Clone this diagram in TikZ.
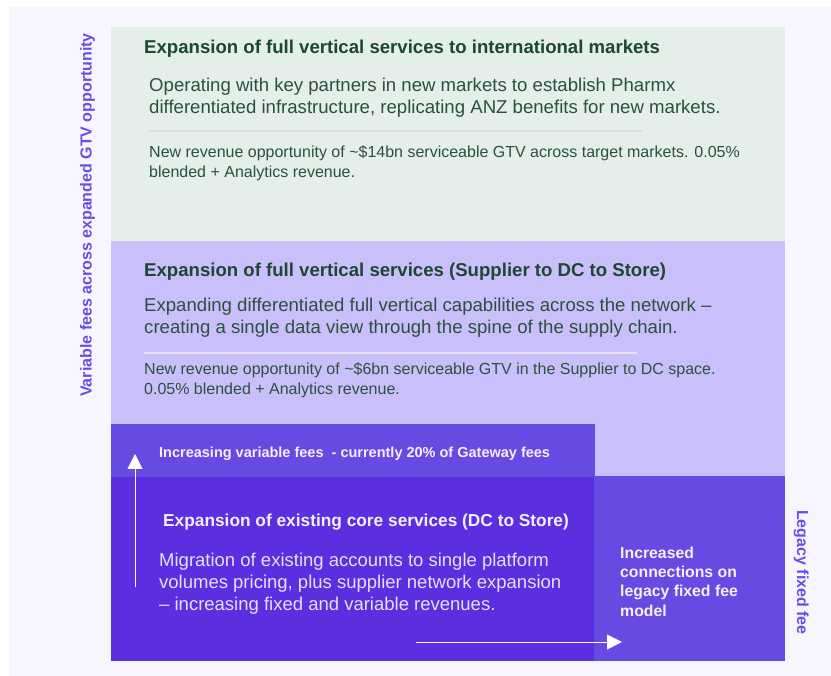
\documentclass[tikz,border=0pt]{standalone}
\usepackage{fontspec}
\setmainfont{Liberation Sans}
\usetikzlibrary{arrows.meta}
\definecolor{pagebg}{HTML}{F7F6FE}
\definecolor{panelgreen}{HTML}{E4EFEA}
\definecolor{panellilac}{HTML}{C9C0FB}
\definecolor{panelviolet}{HTML}{664AE2}
\definecolor{paneldeep}{HTML}{5B2EE0}
\definecolor{headgreen}{HTML}{1B4733}
\definecolor{bodygreen}{HTML}{2B5040}
\definecolor{rulegrey}{HTML}{DCDCE8}
\definecolor{rulelilac}{HTML}{E6E2F6}
\definecolor{sidepurple}{HTML}{6A4DE8}
\definecolor{palewhite}{HTML}{F2F0FF}
\definecolor{palelilac}{HTML}{E6E0FF}
\tikzstyle{heading}=[anchor=base west, inner sep=0pt, font=\bfseries\fontsize{18.6}{22}\selectfont, text=headgreen]
\tikzstyle{bodytext}=[anchor=base west, inner sep=0pt, align=left, font=\fontsize{18.6}{22}\selectfont, text=bodygreen]
\tikzstyle{smalltext}=[bodytext, font=\fontsize{16}{19.5}\selectfont]
\tikzstyle{bandtext}=[anchor=base west, inner sep=0pt, font=\bfseries\fontsize{14.5}{18}\selectfont, text=palewhite]
\tikzstyle{coreheading}=[heading, font=\bfseries\fontsize{17.3}{21}\selectfont, text=palewhite]
\tikzstyle{corebody}=[bodytext, font=\fontsize{18.5}{22}\selectfont, text=palelilac]
\tikzstyle{legacytext}=[bandtext, align=left, font=\bfseries\fontsize{15.8}{19.3}\selectfont]
\tikzstyle{sidelabel}=[anchor=base west, inner sep=0pt, font=\bfseries\fontsize{16}{19}\selectfont, text=sidepurple]
\tikzstyle{growth}=[white, line width=1pt, -{Triangle[width=15pt,length=15pt]}]

\begin{document}
\begin{tikzpicture}[x=1pt,y=-1pt]
    \useasboundingbox (0,0) rectangle (831,676);
    \fill [pagebg] (9,7) rectangle (831,676);
    \fill [panelgreen] (111,27) rectangle (785,241);
    \fill [panellilac] (111,241) rectangle (785,477);
    \fill [panelviolet] (111,424) rectangle (595,477);
    \fill [panelviolet] (594,476) rectangle (785,661);
    \fill [paneldeep] (111,477) rectangle (594,661);
    \draw [rulegrey, line width=1.3pt] (149,131) -- (642,131);
    \draw [rulelilac, line width=1.8pt] (144,353) -- (637,353);
    \node [heading] (intl) at (144,54) {Expansion of full vertical services to international markets};
    \node [bodytext] (intldesc) at (149,114) {Operating with key partners in new markets to establish Pharmx\\differentiated infrastructure, replicating ANZ benefits for new markets.};
    \node [smalltext] (intlgtv) at (149,177.5) {New revenue opportunity of \textasciitilde\$14bn serviceable GTV across target markets. 0.05\%\\blended + Analytics revenue.};
    \node [heading] (supply) at (144,277) {Expansion of full vertical services (Supplier to DC to Store)};
    \node [bodytext] (supplydesc) at (144,334) {Expanding differentiated full vertical capabilities across the network --\\creating a single data view through the spine of the supply chain.};
    \node [smalltext] (supplygtv) at (144,394.5) {New revenue opportunity of \textasciitilde\$6bn serviceable GTV in the Supplier to DC space.\\0.05\% blended + Analytics revenue.};
    \node [bandtext] (varfees) at (159,458) {Increasing variable fees\ \ - currently 20\% of Gateway fees};
    \node [coreheading] (core) at (163,527) {Expansion of existing core services (DC to Store)};
    \node [corebody] (coredesc) at (159,610) {Migration of existing accounts to single platform\\volumes pricing, plus supplier network expansion\\-- increasing fixed and variable revenues.};
    \node [legacytext] (legacy) at (620,616) {Increased\\connections on\\legacy fixed fee\\model};
    \node [sidelabel, rotate=90] (gtvaxis) at (91.5,397) {Variable fees across expanded GTV opportunity};
    \node [sidelabel, rotate=-90] (legacyaxis) at (797,510) {Legacy fixed fee};
    \coordinate (varstart) at (135,587);
    \coordinate (varend) at (135,454);
    \coordinate (fixstart) at (416,642);
    \coordinate (fixend) at (622,642);
    \draw [growth] (varstart) -- (varend);
    \draw [growth] (fixstart) -- (fixend);
\end{tikzpicture}
\end{document}
